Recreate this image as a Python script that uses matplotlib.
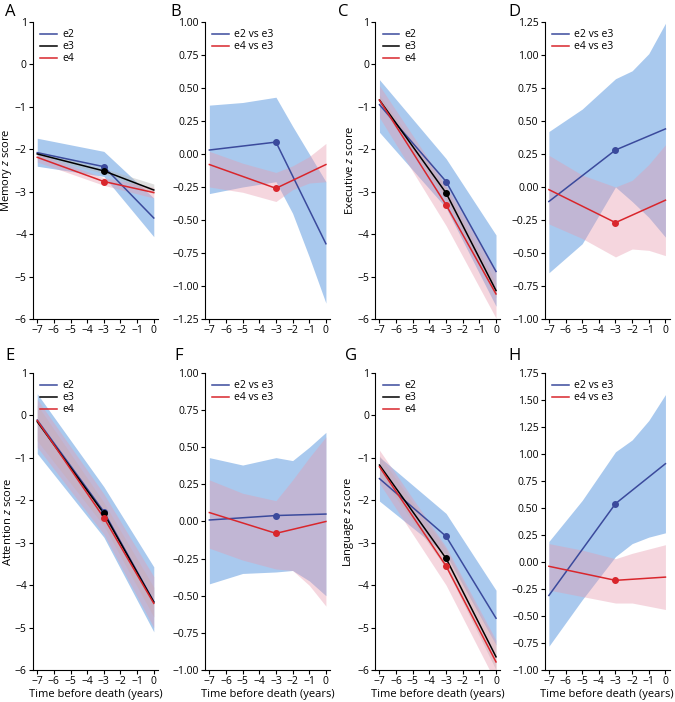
import matplotlib
matplotlib.use("Agg")
import matplotlib.pyplot as plt

plt.rcParams["font.family"] = ["Open Sans", "DejaVu Sans"]
plt.rcParams["mathtext.fontset"] = "custom"
plt.rcParams["mathtext.it"] = "Open Sans:italic"
plt.rcParams["mathtext.rm"] = "Open Sans"

BLUE = "#3b4a9c"
RED = "#d9262c"
BLUE_FILL = "#a9c9ee"
PINK_FILL = "#e79aae"
GREY_FILL = "#b8b8b8"

# ---- data --------------------------------------------------------------
years = [-7, -3, 0]
ci_x = [-7, -3, 0]              # CI knots for the per-genotype panels
ci_x_diff = [-7, -5, -3, -2, -1, 0]   # CI knots for the difference panels

# A  memory
mem_e2 = [-2.08, -2.41, -3.62]
mem_e3 = [-2.11, -2.51, -2.96]
mem_e4 = [-2.19, -2.76, -3.02]
mem_e2_lo = [-2.40, -2.64, -4.06]
mem_e2_hi = [-1.74, -2.05, -3.15]
mem_e3_lo = [-2.17, -2.57, -3.05]
mem_e3_hi = [-2.04, -2.45, -2.82]
mem_e4_lo = [-2.30, -2.85, -3.15]
mem_e4_hi = [-2.10, -2.67, -2.90]

# B  memory differences
mem_d2 = [0.03, 0.09, -0.68]
mem_d4 = [-0.08, -0.26, -0.08]
mem_d2_lo = [-0.30, -0.25, -0.21, -0.45, -0.78, -1.13]
mem_d2_hi = [0.37, 0.39, 0.43, 0.21, 0.00, -0.21]
mem_d4_lo = [-0.25, -0.29, -0.36, -0.27, -0.22, -0.21]
mem_d4_hi = [0.02, -0.07, -0.14, -0.09, -0.02, 0.08]

# C  executive
exe_e2 = [-0.95, -2.76, -4.88]
exe_e3 = [-0.84, -3.03, -5.33]
exe_e4 = [-0.84, -3.31, -5.41]
exe_e2_lo = [-1.60, -3.38, -5.70]
exe_e2_hi = [-0.36, -2.22, -4.02]
exe_e3_lo = [-0.96, -3.16, -5.50]
exe_e3_hi = [-0.72, -2.90, -5.15]
exe_e4_lo = [-1.25, -3.80, -5.98]
exe_e4_hi = [-0.50, -2.85, -4.85]

# D  executive differences
exe_d2 = [-0.11, 0.28, 0.44]
exe_d4 = [-0.02, -0.27, -0.10]
exe_d2_lo = [-0.65, -0.43, 0.00, -0.11, -0.23, -0.38]
exe_d2_hi = [0.42, 0.59, 0.82, 0.88, 1.01, 1.24]
exe_d4_lo = [-0.28, -0.39, -0.53, -0.47, -0.48, -0.52]
exe_d4_hi = [0.24, 0.09, 0.00, 0.05, 0.17, 0.32]

# E  attention
att_e2 = [-0.11, -2.27, -4.39]
att_e3 = [-0.15, -2.31, -4.40]
att_e4 = [-0.12, -2.41, -4.43]
att_e2_lo = [-0.90, -2.87, -5.10]
att_e2_hi = [0.51, -1.68, -3.57]
att_e3_lo = [-0.60, -2.60, -4.75]
att_e3_hi = [0.25, -2.05, -4.05]
att_e4_lo = [-0.75, -2.80, -5.00]
att_e4_hi = [0.38, -1.85, -3.80]

# F  attention differences
att_d2 = [0.01, 0.04, 0.05]
att_d4 = [0.06, -0.08, 0.00]
att_d2_lo = [-0.42, -0.35, -0.34, -0.33, -0.40, -0.50]
att_d2_hi = [0.43, 0.38, 0.43, 0.41, 0.50, 0.60]
att_d4_lo = [-0.18, -0.26, -0.32, -0.33, -0.43, -0.57]
att_d4_hi = [0.28, 0.19, 0.14, 0.28, 0.43, 0.57]

# G  language
lan_e2 = [-1.49, -2.85, -4.78]
lan_e3 = [-1.17, -3.37, -5.69]
lan_e4 = [-1.21, -3.55, -5.81]
lan_e2_lo = [-2.02, -3.28, -5.41]
lan_e2_hi = [-0.98, -2.31, -4.12]
lan_e3_lo = [-1.40, -3.60, -6.00]
lan_e3_hi = [-0.95, -3.15, -5.40]
lan_e4_lo = [-1.60, -4.00, -6.30]
lan_e4_hi = [-0.82, -3.10, -5.30]

# H  language differences
lan_d2 = [-0.31, 0.54, 0.91]
lan_d4 = [-0.04, -0.17, -0.14]
lan_d2_lo = [-0.78, -0.35, 0.05, 0.17, 0.23, 0.27]
lan_d2_hi = [0.19, 0.57, 1.02, 1.13, 1.31, 1.55]
lan_d4_lo = [-0.26, -0.32, -0.38, -0.38, -0.41, -0.44]
lan_d4_hi = [0.17, 0.11, 0.03, 0.08, 0.12, 0.16]

xticks = [-7, -6, -5, -4, -3, -2, -1, 0]

# ---- figure ------------------------------------------------------------
fig = plt.figure(figsize=(6.75, 7.02), dpi=100)

lefts = [0.049, 0.304, 0.556, 0.807]
bottoms = [0.5456, 0.0456]
W, H = 0.185, 0.4231


def style_ax(ax, ylim, yticks, bottom_row):
    ax.set_xlim(-7.25, 0.25)
    ax.set_ylim(*ylim)
    ax.set_xticks(xticks)
    ax.set_yticks(yticks)
    ax.spines["top"].set_visible(False)
    ax.spines["right"].set_visible(False)
    ax.tick_params(labelsize=7.5, length=3, width=0.8, pad=1.5)
    if bottom_row:
        ax.set_xlabel("Time before death (years)", fontsize=8, labelpad=1)


def genotype_panel(ax, e2, e3, e4, b2, b3, b4, ylabel, bottom_row):
    ax.fill_between(ci_x, b2[0], b2[1], color=BLUE_FILL, lw=0)
    ax.fill_between(ci_x, b3[0], b3[1], color=GREY_FILL, alpha=0.45, lw=0)
    ax.fill_between(ci_x, b4[0], b4[1], color=PINK_FILL, alpha=0.4, lw=0)
    ax.plot(years, e2, color=BLUE, lw=1.1, label="e2")
    ax.plot(years, e3, color="black", lw=1.1, label="e3")
    ax.plot(years, e4, color=RED, lw=1.1, label="e4")
    for s, c in [(e2, BLUE), (e3, "black"), (e4, RED)]:
        ax.plot(years[1], s[1], "o", color=c, ms=4)
    style_ax(ax, (-6, 1), range(-6, 2), bottom_row)
    ax.set_ylabel(ylabel, fontsize=8, labelpad=1)
    ax.legend(loc="upper left", frameon=False, fontsize=7.5, handlelength=1.6,
              labelspacing=0.1, handletextpad=0.5, borderaxespad=0.3)


def diff_panel(ax, d2, d4, b2, b4, ylim, bottom_row):
    ax.fill_between(ci_x_diff, b2[0], b2[1], color=BLUE_FILL, lw=0)
    ax.fill_between(ci_x_diff, b4[0], b4[1], color=PINK_FILL, alpha=0.4, lw=0)
    ax.plot(years, d2, color=BLUE, lw=1.1, label="e2 vs e3")
    ax.plot(years, d4, color=RED, lw=1.1, label="e4 vs e3")
    ax.plot(years[1], d2[1], "o", color=BLUE, ms=4)
    ax.plot(years[1], d4[1], "o", color=RED, ms=4)
    n = int(round((ylim[1] - ylim[0]) / 0.25))
    style_ax(ax, ylim, [ylim[0] + 0.25 * i for i in range(n + 1)], bottom_row)
    ax.legend(loc="upper left", frameon=False, fontsize=7.5, handlelength=1.6,
              labelspacing=0.1, handletextpad=0.5, borderaxespad=0.3)


axA = fig.add_axes([lefts[0], bottoms[0], W, H])
genotype_panel(axA, mem_e2, mem_e3, mem_e4,
               (mem_e2_lo, mem_e2_hi), (mem_e3_lo, mem_e3_hi), (mem_e4_lo, mem_e4_hi),
               "Memory $z$ score", False)
axB = fig.add_axes([lefts[1], bottoms[0], W, H])
diff_panel(axB, mem_d2, mem_d4, (mem_d2_lo, mem_d2_hi), (mem_d4_lo, mem_d4_hi),
           (-1.25, 1.0), False)
axC = fig.add_axes([lefts[2], bottoms[0], W, H])
genotype_panel(axC, exe_e2, exe_e3, exe_e4,
               (exe_e2_lo, exe_e2_hi), (exe_e3_lo, exe_e3_hi), (exe_e4_lo, exe_e4_hi),
               "Executive $z$ score", False)
axD = fig.add_axes([lefts[3], bottoms[0], W, H])
diff_panel(axD, exe_d2, exe_d4, (exe_d2_lo, exe_d2_hi), (exe_d4_lo, exe_d4_hi),
           (-1.0, 1.25), False)
axE = fig.add_axes([lefts[0], bottoms[1], W, H])
genotype_panel(axE, att_e2, att_e3, att_e4,
               (att_e2_lo, att_e2_hi), (att_e3_lo, att_e3_hi), (att_e4_lo, att_e4_hi),
               "Attention $z$ score", True)
axF = fig.add_axes([lefts[1], bottoms[1], W, H])
diff_panel(axF, att_d2, att_d4, (att_d2_lo, att_d2_hi), (att_d4_lo, att_d4_hi),
           (-1.0, 1.0), True)
axG = fig.add_axes([lefts[2], bottoms[1], W, H])
genotype_panel(axG, lan_e2, lan_e3, lan_e4,
               (lan_e2_lo, lan_e2_hi), (lan_e3_lo, lan_e3_hi), (lan_e4_lo, lan_e4_hi),
               "Language $z$ score", True)
axH = fig.add_axes([lefts[3], bottoms[1], W, H])
diff_panel(axH, lan_d2, lan_d4, (lan_d2_lo, lan_d2_hi), (lan_d4_lo, lan_d4_hi),
           (-1.0, 1.75), True)

# panel letters
for letter, x, y in [("A", 5, 12), ("B", 170, 12), ("C", 338, 12), ("D", 508, 12),
                     ("E", 5, 356), ("F", 174, 356), ("G", 345, 356), ("H", 508, 356)]:
    fig.text(x / 675, 1 - y / 702, letter, fontsize=12, va="center", ha="left")

fig.savefig("out.png", dpi=100)
